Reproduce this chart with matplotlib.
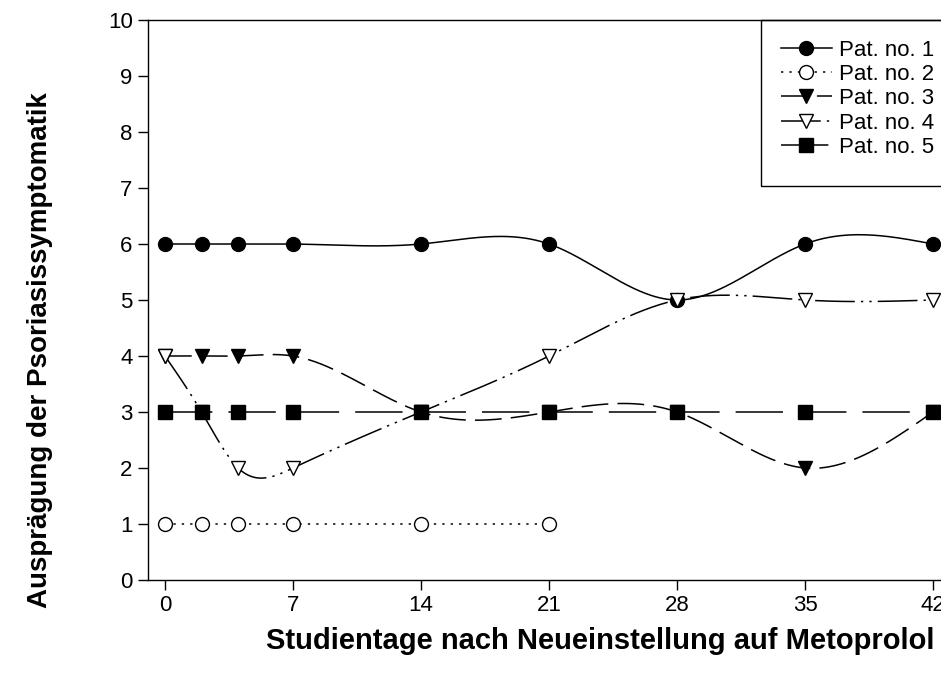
import numpy as np
import matplotlib.pyplot as plt
from matplotlib.patches import Rectangle

plt.rcParams['font.family'] = ['Liberation Sans', 'DejaVu Sans']

days = [0, 2, 4, 7, 14, 21, 28, 35, 42]
pat1 = [6, 6, 6, 6, 6, 6, 5, 6, 6]
pat2_days = [0, 2, 4, 7, 14, 21]
pat2 = [1, 1, 1, 1, 1, 1]
pat3 = [4, 4, 4, 4, 3, 3, 3, 2, 3]
pat4 = [4, 3, 2, 2, 3, 4, 5, 5, 5]
pat5 = [3, 3, 3, 3, 3, 3, 3, 3, 3]
labels = ['Pat. no. 1', 'Pat. no. 2', 'Pat. no. 3', 'Pat. no. 4', 'Pat. no. 5']


def spline(x, y, n=400):
    # natural cubic spline through the points
    x = np.asarray(x, float)
    y = np.asarray(y, float)
    m = len(x)
    h = np.diff(x)
    A = np.zeros((m, m))
    b = np.zeros(m)
    A[0, 0] = A[-1, -1] = 1
    for i in range(1, m - 1):
        A[i, i - 1] = h[i - 1]
        A[i, i] = 2 * (h[i - 1] + h[i])
        A[i, i + 1] = h[i]
        b[i] = 6 * ((y[i + 1] - y[i]) / h[i] - (y[i] - y[i - 1]) / h[i - 1])
    M = np.linalg.solve(A, b)
    xs = np.linspace(x[0], x[-1], n)
    idx = np.clip(np.searchsorted(x, xs) - 1, 0, m - 2)
    x0, x1 = x[idx], x[idx + 1]
    hh = x1 - x0
    a = (x1 - xs) / hh
    c = (xs - x0) / hh
    ys = (a * y[idx] + c * y[idx + 1]
          + ((a ** 3 - a) * M[idx] + (c ** 3 - c) * M[idx + 1]) * hh ** 2 / 6)
    return xs, ys


W, H = 941, 686
fig = plt.figure(figsize=(W / 100, H / 100), dpi=100)
ax = fig.add_axes([148 / W, 106 / H, 802 / W, 560 / H])

series = [
    (days, pat1, dict(marker='o', mfc='black', linestyle='-')),
    (pat2_days, pat2, dict(marker='o', mfc='white', dashes=(1.5, 4))),
    (days, pat3, dict(marker='v', mfc='black', dashes=(17.5, 6))),
    (days, pat4, dict(marker='v', mfc='white', dashes=(26, 4, 1.5, 4, 1.5, 4))),
    (days, pat5, dict(marker='s', mfc='black', dashes=(31, 10.5))),
]

handles = []
for (x, y, st), lab in zip(series, labels):
    xs, ys = spline(x, y)
    ls = {k: v for k, v in st.items() if k in ('linestyle', 'dashes')}
    ax.plot(xs, ys, color='black', lw=1.1, **ls)
    ax.plot(x, y, linestyle='none', marker=st['marker'], mfc=st['mfc'],
            mec='black', ms=10, mew=1, zorder=3)
    h, = ax.plot([], [], color='black', lw=1.1, marker=st['marker'],
                 mfc=st['mfc'], mec='black', ms=10, mew=1, **ls)
    handles.append(h)

ax.set_xlim(-0.93, (950 - 165) / (768 / 42))
ax.set_ylim(0, 10)
ax.set_xticks([0, 7, 14, 21, 28, 35, 42])
ax.set_yticks(range(11))
ax.tick_params(direction='out', length=7, width=1, labelsize=16, pad=4)
for s in ax.spines.values():
    s.set_linewidth(1)

leg = ax.legend(handles, labels, loc='upper left',
                bbox_to_anchor=(761 / W, (H - 20) / H),
                bbox_transform=fig.transFigure, fontsize=16,
                frameon=False, handlelength=2.3, labelspacing=0.15,
                borderpad=0.88, handletextpad=0.35, borderaxespad=0)
fig.add_artist(Rectangle((761 / W, (H - 186) / H), 200 / W, 166 / H,
                         transform=fig.transFigure, fill=False,
                         edgecolor='black', lw=1, zorder=4))

fig.text(600 / W, 1 - 641 / H, 'Studientage nach Neueinstellung auf Metoprolol',
         ha='center', va='center', fontsize=21, fontweight='bold')
fig.text(40 / W, 1 - 350 / H, 'Ausprägung der Psoriasissymptomatik',
         ha='center', va='center', rotation=90, fontsize=20, fontweight='bold')

fig.savefig('out.png', dpi=100)
